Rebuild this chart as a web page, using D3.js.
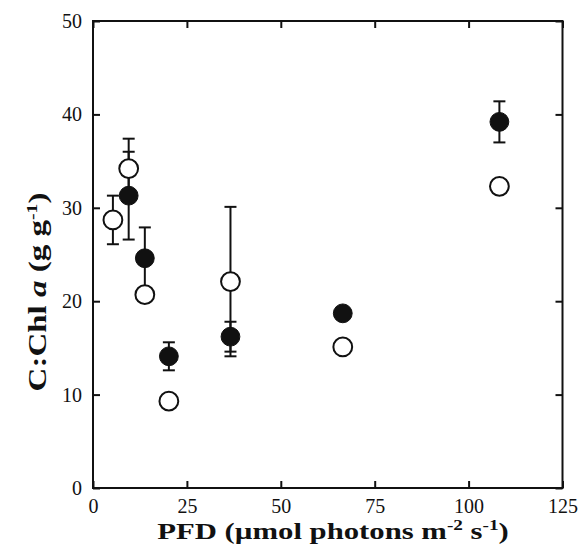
<!DOCTYPE html>
<html>
<head>
<meta charset="utf-8">
<script src="https://cdn.jsdelivr.net/npm/d3@7"></script>
<style>
  html, body { margin: 0; padding: 0; background: #fff; }
  svg { display: block; }
  text { font-family: "Liberation Serif", "Times New Roman", serif; fill: #111; }
</style>
</head>
<body>
<svg id="chart" width="579" height="545"></svg>
<script>
// Filled circles
const filledPFD  = [9.5, 13.8, 20.2, 36.6, 66.5, 108.2];
const filledCChl = [31.3, 24.6, 14.1, 16.2, 18.7, 39.2];
const filledErr  = [4.7, 3.3, 1.5, 1.6, 0, 2.2];
// Open circles
const openPFD  = [5.3, 9.5, 13.8, 20.2, 36.6, 66.5, 108.2];
const openCChl = [28.7, 34.2, 20.7, 9.3, 22.1, 15.1, 32.3];
const openErr  = [2.6, 3.2, 0, 0, 8.0, 0, 0];

const xTicks = [0, 25, 50, 75, 100, 125];
const yTicks = [0, 10, 20, 30, 40, 50];

const svg = d3.select("#chart");
const L = 93, R = 562.5, T = 21, B = 488;
const x = d3.scaleLinear().domain([0, 125]).range([L, R]);
const y = d3.scaleLinear().domain([0, 50]).range([B, T]);
const tickLen = 7;

// axes
const gB = svg.append("g").attr("transform", `translate(0,${B})`)
  .call(d3.axisBottom(x).tickValues(xTicks).tickSizeInner(-tickLen).tickSizeOuter(0).tickPadding(12).tickFormat(d3.format("d")));
const gT = svg.append("g").attr("transform", `translate(0,${T})`)
  .call(d3.axisTop(x).tickValues(xTicks).tickSizeInner(-tickLen).tickSizeOuter(0).tickFormat(""));
const gL = svg.append("g").attr("transform", `translate(${L},0)`)
  .call(d3.axisLeft(y).tickValues(yTicks).tickSizeInner(-tickLen).tickSizeOuter(0).tickPadding(11).tickFormat(d3.format("d")));
const gR = svg.append("g").attr("transform", `translate(${R},0)`)
  .call(d3.axisRight(y).tickValues(yTicks).tickSizeInner(-tickLen).tickSizeOuter(0).tickFormat(""));

[gB, gT, gL, gR].forEach(g => {
  g.select(".domain").remove();
  g.selectAll(".tick line").attr("stroke", "#111").attr("stroke-width", 2);
  g.selectAll(".tick text").attr("font-size", 20).attr("font-family", "Liberation Serif, serif").attr("fill", "#111");
});
gB.selectAll(".tick text").attr("dy", "0.64em");

// frame
svg.append("rect").attr("x", L).attr("y", T).attr("width", R - L).attr("height", B - T)
  .attr("fill", "none").attr("stroke", "#111").attr("stroke-width", 2);

// data tables
const filled = filledPFD.map((p, i) => ({p, v: filledCChl[i], e: filledErr[i]}));
const open = openPFD.map((p, i) => ({p, v: openCChl[i], e: openErr[i]}));
const capW = 6;

function errBars(data) {
  const g = svg.append("g").attr("stroke", "#111").attr("stroke-width", 2);
  data.filter(d => d.e > 0).forEach(d => {
    const cx = x(d.p), y1 = y(d.v + d.e), y0 = y(d.v - d.e);
    g.append("line").attr("x1", cx).attr("x2", cx).attr("y1", y1).attr("y2", y0);
    g.append("line").attr("x1", cx - capW).attr("x2", cx + capW).attr("y1", y1).attr("y2", y1);
    g.append("line").attr("x1", cx - capW).attr("x2", cx + capW).attr("y1", y0).attr("y2", y0);
  });
}
errBars(open);
errBars(filled);

const r = 9.4;
svg.append("g").selectAll("circle").data(open).join("circle")
  .attr("cx", d => x(d.p)).attr("cy", d => y(d.v)).attr("r", r)
  .attr("fill", "#fff").attr("stroke", "#111").attr("stroke-width", 2);
svg.append("g").selectAll("circle").data(filled).join("circle")
  .attr("cx", d => x(d.p)).attr("cy", d => y(d.v)).attr("r", r)
  .attr("fill", "#111").attr("stroke", "#111").attr("stroke-width", 1);

// axis titles (wide bold serif, stretched along the text direction)
const xt = svg.append("text").attr("transform", `translate(333,539) scale(1.28,1)`)
  .attr("text-anchor", "middle").attr("font-size", 24).attr("font-weight", "bold");
xt.append("tspan").text("PFD (µmol photons m");
xt.append("tspan").attr("font-size", 15).attr("dy", -9).text("-2");
xt.append("tspan").attr("dy", 9).text(" s");
xt.append("tspan").attr("font-size", 15).attr("dy", -9).text("-1");
xt.append("tspan").attr("dy", 9).text(")");

const yt = svg.append("text").attr("transform", `translate(46,292) rotate(-90) scale(1.32,1)`)
  .attr("text-anchor", "middle").attr("font-size", 25).attr("font-weight", "bold");
yt.append("tspan").text("C:Chl ");
yt.append("tspan").attr("font-style", "italic").text("a");
yt.append("tspan").text(" (g g");
yt.append("tspan").attr("font-size", 15).attr("dy", -9).text("-1");
yt.append("tspan").attr("dy", 9).text(")");
</script>
</body>
</html>
